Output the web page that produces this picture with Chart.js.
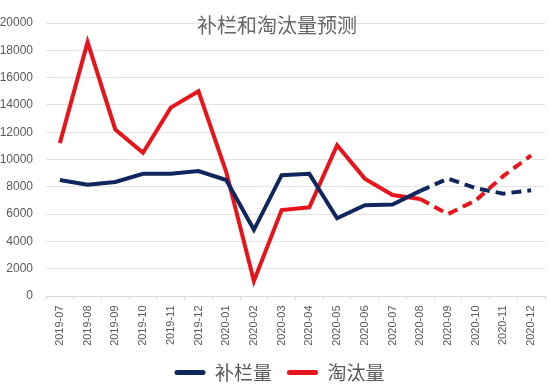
<!DOCTYPE html>
<html>
<head>
<meta charset="utf-8">
<script src="https://cdn.jsdelivr.net/npm/chart.js@4/dist/chart.umd.min.js"></script>
<style>
  html, body { margin: 0; padding: 0; background: #fff; }
  #wrap { width: 550px; height: 386px; }
</style>
</head>
<body>
<div id="wrap"><canvas id="myChart"></canvas></div>
<script>
const months = ['2019-07', '2019-08', '2019-09', '2019-10', '2019-11', '2019-12',
    '2020-01', '2020-02', '2020-03', '2020-04', '2020-05', '2020-06',
    '2020-07', '2020-08', '2020-09', '2020-10', '2020-11', '2020-12'];

// 补栏量
const buLan = [8500, 8150, 8350, 8950, 8950, 9150, 8500, 4850, 8850, 8950,
    5700, 6650, 6700, 7700, 8600, 7900, 7500, 7750];

// 淘汰量
const taoTai = [11200, 18600, 12200, 10500, 13800, 15000, 9100, 1100, 6300, 6500,
    11050, 8600, 7400, 7100, 6000, 7000, 8800, 10300];

const yTicks = [0, 2000, 4000, 6000, 8000, 10000, 12000, 14000, 16000, 18000, 20000];

const forecastFrom = 13; // 2020-08 以后为预测

const gray = '#595959';
const dashed = (ctx) => ctx.p0DataIndex >= forecastFrom ? [10, 6] : undefined;

const titlePlugin = {
    id: 'overTitle',
    afterLayout(chart) {
        // legend sits a little right of centre in the original
        chart.legend.left += 7;
        chart.legend.right += 7;
    },
    afterDraw(chart) {
        const ctx = chart.ctx;
        ctx.save();
        ctx.font = '20px "Noto Sans CJK SC"';
        ctx.fillStyle = '#666666';
        ctx.textAlign = 'center';
        ctx.textBaseline = 'middle';
        ctx.fillText('补栏和淘汰量预测', 277, 25);
        ctx.restore();
    }
};

const ctx = document.getElementById('myChart').getContext('2d');

const data = {
    labels: months,
    datasets: [{
        label: '补栏量',
        data: buLan,
        borderColor: '#10275E',
        backgroundColor: '#10275E',
        borderWidth: 4,
        pointRadius: 0,
        tension: 0,
        segment: { borderDash: dashed }
    }, {
        label: '淘汰量',
        data: taoTai,
        borderColor: '#E8141B',
        backgroundColor: '#E8141B',
        borderWidth: 4,
        pointRadius: 0,
        tension: 0,
        segment: { borderDash: dashed }
    }]
};

const chart = new Chart(ctx, {
    type: 'line',
    data: data,
    plugins: [titlePlugin],
    options: {
        responsive: true,
        maintainAspectRatio: false,
        animation: false,
        layout: { padding: { top: 23, right: 5, left: 0, bottom: -6 } },
        plugins: {
            tooltip: { enabled: false },
            legend: {
                position: 'bottom',
                labels: {
                    boxWidth: 31,
                    boxHeight: 5,
                    padding: 15,
                    color: gray,
                    font: { family: '"Noto Sans CJK SC"', size: 19 },
                    generateLabels: (chart) => {
                        return Chart.defaults.plugins.legend.labels.generateLabels(chart).map((item) => {
                            item.fillStyle = item.strokeStyle;
                            item.lineWidth = 0;
                            item.lineDash = [];
                            item.borderRadius = 2.5;
                            return item;
                        });
                    },
                    useBorderRadius: true
                }
            }
        },
        scales: {
            x: {
                offset: true,
                afterFit: (axis) => { axis.height = 52; },
                grid: {
                    offset: true,
                    drawOnChartArea: false,
                    tickLength: 4,
                    color: '#d9d9d9'
                },
                border: { color: '#d9d9d9' },
                ticks: {
                    minRotation: 90,
                    maxRotation: 90,
                    padding: 5.5,
                    color: gray,
                    font: { family: '"Liberation Sans"', size: 11 }
                }
            },
            y: {
                min: 0,
                max: 20000,
                afterFit: (axis) => { axis.width = 46; },
                afterBuildTicks: (axis) => {
                    axis.ticks = yTicks.map((v) => ({ value: v }));
                },
                grid: { color: '#e3e3e3', drawTicks: false },
                border: { display: false },
                ticks: {
                    padding: 13,
                    color: gray,
                    font: { family: '"Liberation Sans"', size: 12 },
                    callback: (value) => String(value)
                }
            }
        }
    }
});
</script>
</body>
</html>
